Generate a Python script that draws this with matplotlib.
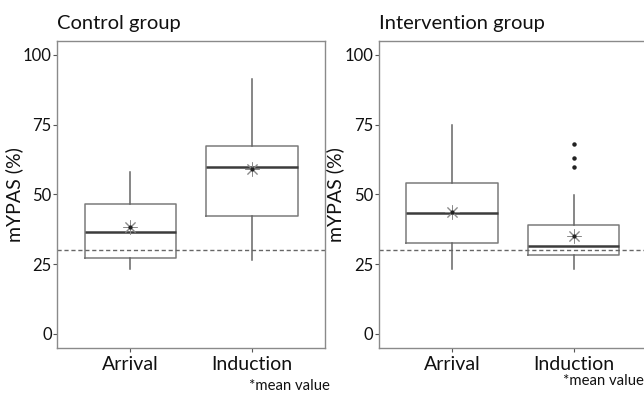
import matplotlib

matplotlib.use("Agg")
import matplotlib.pyplot as plt  # noqa: E402

# Dados (mYPAS %)
grupos = ["Control group", "Intervention group"]
momentos = ["Arrival", "Induction"]

controle_whislo = [23.2, 26.5]
controle_q1 = [27.1, 42.4]
controle_med = [36.5, 59.9]
controle_q3 = [46.5, 67.3]
controle_whishi = [58.0, 91.5]
controle_media = [38.3, 59.1]
controle_outliers = [[], []]

interv_whislo = [23.4, 23.4]
interv_q1 = [32.5, 28.2]
interv_med = [43.3, 31.6]
interv_q3 = [54.2, 38.9]
interv_whishi = [74.8, 49.8]
interv_media = [43.6, 35.1]
interv_outliers = [[], [60.0, 63.2, 68.1]]

limiar = 30
yticks = [0, 25, 50, 75, 100]

CAIXA = "#7a7a7a"
MEDIANA = "#3c3c3c"
TINTA = "#111111"

plt.rcParams["font.family"] = ["Lato", "DejaVu Sans"]


def estatisticas(whislo, q1, med, q3, whishi, outliers):
    return [
        {"whislo": a, "q1": b, "med": c, "q3": d, "whishi": e, "fliers": f}
        for a, b, c, d, e, f in zip(whislo, q1, med, q3, whishi, outliers)
    ]


def painel(ax, titulo, stats, medias):
    ax.bxp(stats, positions=[1, 2], widths=0.75, showcaps=False,
           boxprops=dict(color=CAIXA, linewidth=1.1),
           whiskerprops=dict(color="#666666", linewidth=1.1),
           medianprops=dict(color=MEDIANA, linewidth=1.8),
           flierprops=dict(marker="o", markersize=2.2, markerfacecolor="#222222",
                           markeredgecolor="#222222"))
    ax.plot([1, 2], medias, linestyle="none", marker=(8, 2, 0), markersize=10,
            markeredgecolor="#8a8a8a", markeredgewidth=0.7, zorder=4)
    ax.plot([1, 2], medias, linestyle="none", marker="o", markersize=2,
            color="#222222", zorder=5)
    ax.axhline(limiar, color="#666666", linestyle=(0, (3, 2)), linewidth=1.0)
    ax.set_xlim(0.4, 2.6)
    ax.set_ylim(-5, 105)
    ax.set_yticks(yticks, [str(t) for t in yticks], fontsize=12, color=TINTA)
    ax.set_xticks([1, 2], momentos, fontsize=14, color=TINTA)
    ax.tick_params(axis="both", length=3, width=0.8, color="#555555", pad=1)
    ax.tick_params(axis="x", pad=3)
    ax.set_ylabel("mYPAS (%)", fontsize=14, color=TINTA, labelpad=0)
    for sp in ax.spines.values():
        sp.set_color("#8a8a8a")
        sp.set_linewidth(1.0)
    ax.text(0.0, 1.03, titulo, transform=ax.transAxes, fontsize=14.5,
            color=TINTA, ha="left", va="bottom")


fig = plt.figure(figsize=(6.44, 3.94), dpi=100)
ax1 = fig.add_axes([0.089, 0.117, 0.416, 0.779])
ax2 = fig.add_axes([0.5885, 0.117, 0.416, 0.779])

painel(ax1, grupos[0],
       estatisticas(controle_whislo, controle_q1, controle_med, controle_q3,
                    controle_whishi, controle_outliers), controle_media)
painel(ax2, grupos[1],
       estatisticas(interv_whislo, interv_q1, interv_med, interv_q3,
                    interv_whishi, interv_outliers), interv_media)

fig.text(0.513, 0.02, "*mean value", fontsize=10.7, color=TINTA, ha="right", va="center")
fig.text(0.874, 0.032, "*mean value", fontsize=10.7, color=TINTA, ha="left", va="center")

fig.savefig("out.png", dpi=100)
